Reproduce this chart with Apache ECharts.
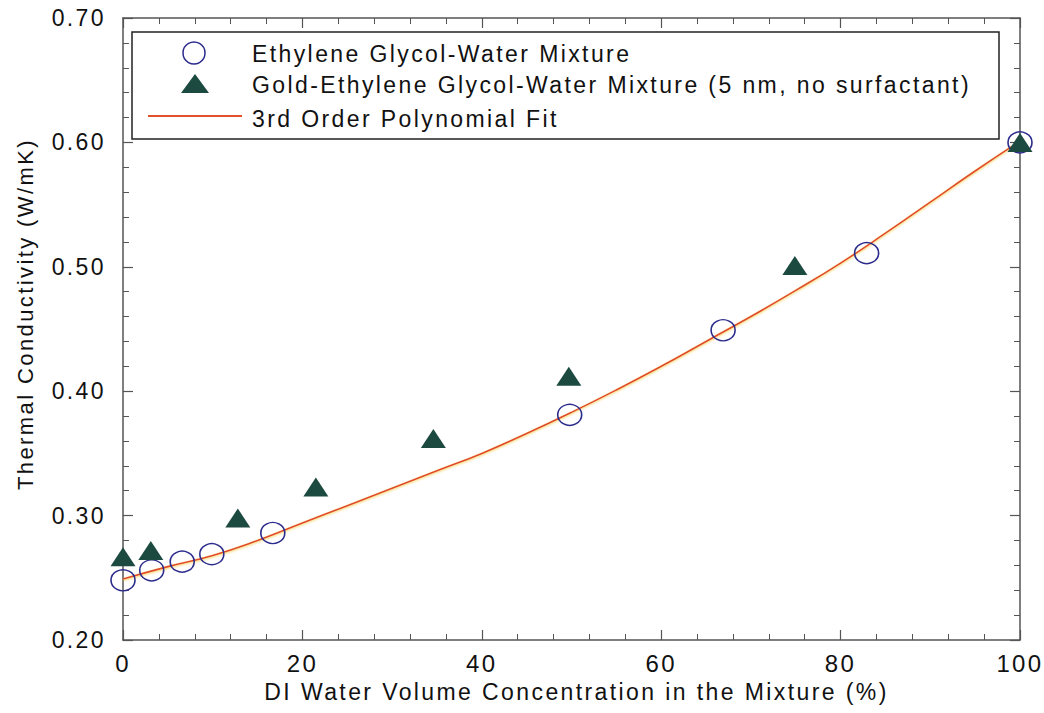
<!DOCTYPE html>
<html>
<head>
<meta charset="utf-8">
<script src="https://cdn.jsdelivr.net/npm/echarts@6/dist/echarts.min.js"></script>
<style>
  html, body { margin: 0; padding: 0; background: #fff; }
  #chart { width: 1044px; height: 713px; }
  /* wide tracking on every label */
  #chart text { letter-spacing: 2.4px; }
</style>
</head>
<body>
<div id="chart"></div>
<script>
// Tick labels
const xTickLabels = ['0', '20', '40', '60', '80', '100'];
const yTickLabels = ['0.20', '0.30', '0.40', '0.50', '0.60', '0.70'];

// Ethylene glycol / water base fluid (x = DI water vol %, y = W/mK)
const egWaterX = [0, 3.2, 6.6, 9.9, 16.7, 49.8, 66.9, 82.9, 100];
const egWaterY = [0.248, 0.256, 0.263, 0.269, 0.286, 0.381, 0.449, 0.511, 0.600];

// Gold nanofluid in the same mixtures
const goldX = [0, 3.1, 12.8, 21.5, 34.6, 49.7, 74.9, 100];
const goldY = [0.267, 0.272, 0.298, 0.323, 0.362, 0.412, 0.501, 0.600];

// 3rd order polynomial fit, sampled along the curve
const fitX = [0, 5, 10, 15, 20, 25, 30, 35, 40, 45, 50, 55, 60, 65, 70, 75, 80, 85, 90, 95, 100];
const fitY = [0.249, 0.259, 0.268, 0.280, 0.294, 0.308, 0.322, 0.336, 0.350, 0.366, 0.383,
              0.401, 0.420, 0.440, 0.460, 0.481, 0.503, 0.527, 0.552, 0.577, 0.601];

const seriesNames = [
  'Ethylene Glycol-Water Mixture',
  'Gold-Ethylene Glycol-Water Mixture (5 nm, no surfactant)',
  '3rd Order Polynomial Fit'
];

const FONT = '"Liberation Sans", Arial, Helvetica, sans-serif';
const axisColor = '#555';

const zip = (xs, ys) => xs.map((x, i) => [x, ys[i]]);

function frameAxis(pos, isX) {
  const base = {
    type: 'value',
    position: pos,
    axisLine: { show: true, onZero: false, lineStyle: { color: axisColor, width: 1.5 } },
    axisTick: { show: true, inside: true, length: 10, lineStyle: { color: axisColor, width: 1.2 } },
    minorTick: { show: true, splitNumber: 5, length: 6, lineStyle: { color: axisColor, width: 1 } },
    splitLine: { show: false },
    minorSplitLine: { show: false }
  };
  if (isX) Object.assign(base, { min: 0, max: 100, interval: 20 });
  else Object.assign(base, { min: 0.2, max: 0.7, interval: 0.1 });
  return base;
}

const xBottom = Object.assign(frameAxis('bottom', true), {
  axisLabel: {
    margin: 11, fontSize: 24, color: '#111', fontFamily: FONT,
    formatter: (v) => xTickLabels[Math.round(v / 20)]
  },
  name: 'DI Water Volume Concentration in the Mixture (%)',
  nameLocation: 'middle',
  nameGap: 40,
  nameTextStyle: { fontSize: 23, color: '#111', fontFamily: FONT, padding: [0, 0, 0, 10] }
});
const xTop = Object.assign(frameAxis('top', true), { axisLabel: { show: false } });

const yLeft = Object.assign(frameAxis('left', false), {
  axisLabel: {
    margin: 17, fontSize: 23, color: '#111', fontFamily: FONT,
    formatter: (v) => yTickLabels[Math.round((v - 0.2) / 0.1)]
  },
  name: 'Thermal Conductivity (W/mK)',
  nameLocation: 'middle',
  nameGap: 87,
  nameTextStyle: { fontSize: 22, color: '#111', fontFamily: FONT, padding: [0, 0, 0, 30] }
});
const yRight = Object.assign(frameAxis('right', false), { axisLabel: { show: false } });

// Legend panel
const legendTextStyle = { fill: '#111', fontSize: 23, fontFamily: FONT, verticalAlign: 'middle', align: 'left' };
const legendGraphic = [
  { type: 'rect', z: 10, shape: { x: 132, y: 32, width: 867, height: 107 },
    style: { fill: '#fff', stroke: '#222', lineWidth: 1.5 } },
  { type: 'circle', z: 11, shape: { cx: 194, cy: 53, r: 11 },
    style: { fill: 'none', stroke: '#2b2b8c', lineWidth: 1.5 } },
  { type: 'polygon', z: 11, shape: { points: [[181, 93], [195, 74], [209, 93]] },
    style: { fill: '#1c4a40' } },
  { type: 'line', z: 11, shape: { x1: 148, y1: 116, x2: 242, y2: 116 },
    style: { stroke: '#e0502a', lineWidth: 2 } },
  { type: 'text', z: 11, x: 252, y: 54, style: Object.assign({ text: seriesNames[0] }, legendTextStyle) },
  { type: 'text', z: 11, x: 252, y: 85, style: Object.assign({ text: seriesNames[1] }, legendTextStyle) },
  { type: 'text', z: 11, x: 252, y: 119, style: Object.assign({ text: seriesNames[2] }, legendTextStyle) }
];

const chart = echarts.init(document.getElementById('chart'), null, { renderer: 'svg' });
chart.setOption({
  animation: false,
  backgroundColor: '#fff',
  grid: { left: 123, right: 24, top: 18, bottom: 73 },
  xAxis: [xBottom, xTop],
  yAxis: [yLeft, yRight],
  graphic: legendGraphic,
  series: [
    {
      name: seriesNames[2],
      type: 'line',
      xAxisIndex: 0, yAxisIndex: 0,
      data: zip(fitX, fitY),
      smooth: true,
      showSymbol: false,
      symbol: 'none',
      lineStyle: { color: '#e0482a', width: 1.6, shadowColor: 'rgba(245,200,60,0.9)', shadowBlur: 2, shadowOffsetY: 1 },
      z: 2
    },
    {
      name: seriesNames[0],
      type: 'scatter',
      xAxisIndex: 0, yAxisIndex: 0,
      data: zip(egWaterX, egWaterY),
      symbol: 'circle',
      symbolSize: [24, 21],
      itemStyle: { color: 'rgba(0,0,0,0)', borderColor: '#2b2b8c', borderWidth: 1.5, opacity: 1 },
      z: 3
    },
    {
      name: seriesNames[1],
      type: 'scatter',
      xAxisIndex: 0, yAxisIndex: 0,
      data: zip(goldX, goldY),
      symbol: 'triangle',
      symbolSize: [25, 19],
      itemStyle: { color: '#1c4a40', opacity: 1 },
      z: 4
    }
  ]
});
</script>
</body>
</html>
